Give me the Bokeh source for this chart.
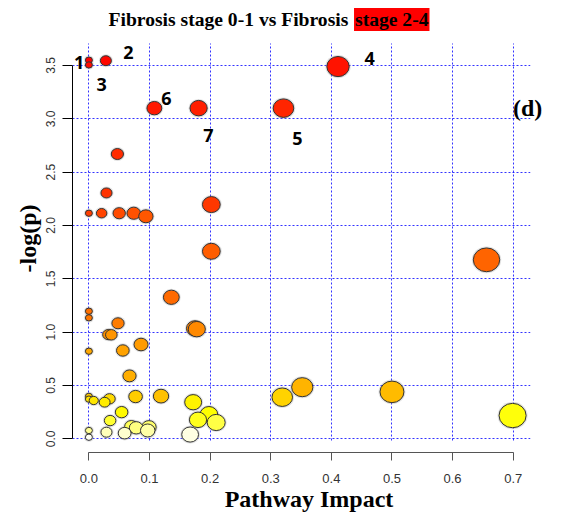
import colorsys
import math
from bokeh.plotting import figure
from bokeh.models import Range1d, Label, FixedTicker, ColumnDataSource, BoxAnnotation
from bokeh.embed import file_html
from bokeh.resources import INLINE

# ---- data (sorted by -log(p), most significant first) ----
impact = [0.000, 0.028, 0.000, 0.411, 0.108, 0.181, 0.321, 0.047, 0.029, 0.202,
          0.000, 0.021, 0.050, 0.074, 0.094, 0.202, 0.656, 0.136, 0.000, 0.000,
          0.048, 0.175, 0.178, 0.032, 0.037, 0.086, 0.056, 0.000, 0.067, 0.352,
          0.500, 0.119, 0.000, 0.077, 0.319, 0.034, 0.000, 0.008, 0.026, 0.172,
          0.054, 0.198, 0.699, 0.180, 0.035, 0.210, 0.070, 0.099, 0.078, 0.000,
          0.097, 0.029, 0.059, 0.167, 0.000]
neg_log_p = [3.550, 3.545, 3.505, 3.490, 3.100, 3.100, 3.100, 2.670, 2.305, 2.196,
             2.115, 2.115, 2.115, 2.115, 2.086, 1.758, 1.678, 1.327, 1.196, 1.134,
             1.083, 1.035, 1.028, 0.977, 0.975, 0.884, 0.828, 0.821, 0.590, 0.484,
             0.440, 0.400, 0.398, 0.396, 0.390, 0.375, 0.372, 0.359, 0.343, 0.343,
             0.250, 0.228, 0.218, 0.178, 0.171, 0.153, 0.115, 0.109, 0.103, 0.078,
             0.078, 0.062, 0.053, 0.040, 0.015]

x_ticks = [0.0, 0.1, 0.2, 0.3, 0.4, 0.5, 0.6, 0.7]
x_tick_labels = ["0.0", "0.1", "0.2", "0.3", "0.4", "0.5", "0.6", "0.7"]
y_ticks = [0.0, 0.5, 1.0, 1.5, 2.0, 2.5, 3.0, 3.5]
y_tick_labels = ["0.0", "0.5", "1.0", "1.5", "2.0", "2.5", "3.0", "3.5"]

title_main = "Fibrosis stage 0-1 vs Fibrosis "
title_highlight = "stage 2-4"
x_label = "Pathway Impact"
y_label = "-log(p)"
panel_tag = "(d)"
point_numbers = ["1", "2", "3", "4", "5", "6", "7"]

# ---- heat.colors style fill by significance rank ----
def heat_colors(n):
    j = n // 4
    i = n - j
    cols = []
    for k in range(i):
        h = (1.0 / 6.0) * k / (i - 1) if i > 1 else 0.0
        cols.append(colorsys.hsv_to_rgb(h, 1.0, 1.0))
    for k in range(j):
        s0, s1 = 1 - 1 / (2 * j), 1 / (2 * j)
        s = s0 + (s1 - s0) * k / (j - 1) if j > 1 else s0
        cols.append(colorsys.hsv_to_rgb(1.0 / 6.0, s, 1.0))
    return ["#%02x%02x%02x" % tuple(int(round(c * 255)) for c in rgb) for rgb in cols]

order = sorted(range(len(neg_log_p)), key=lambda k: -neg_log_p[k])
pal = heat_colors(len(neg_log_p))
fill = [None] * len(neg_log_p)
for rank, k in enumerate(order):
    fill[k] = pal[rank]

w = [2 * (3.5 + 12 * math.sqrt(v)) for v in impact]
h = [0.9 * v for v in w]
src = ColumnDataSource(dict(x=impact, y=neg_log_p, w=w, h=h,
                            w2=[v + 3 for v in w], h2=[v + 3 for v in h], fill=fill))

# frame spans the top/right of the canvas so that title and tag are not clipped
p = figure(width=545, height=515, output_backend="svg", toolbar_location=None,
           x_range=Range1d(-0.02706, 0.7533), y_range=Range1d(-0.1284, 4.1093),
           min_border_left=72, min_border_right=0, min_border_top=0,
           min_border_bottom=63)
p.outline_line_color = None
p.background_fill_color = "white"
p.border_fill_color = "white"

# grid
for g, t in ((p.xgrid, x_ticks), (p.ygrid, y_ticks)):
    g.ticker = FixedTicker(ticks=t)
    g.grid_line_color = "#0000ff"
    g.grid_line_alpha = 0.8
    g.grid_line_dash = "2 2"
    g.grid_line_width = 1

# white masks limiting the grid to the plotting region
for kw in (dict(bottom=3.706), dict(left=0.7285), dict(top=-0.03)):
    p.add_layout(BoxAnnotation(fill_color="white", fill_alpha=1.0, line_color=None,
                               level="underlay", **kw))

# axes
p.xaxis.ticker = FixedTicker(ticks=x_ticks)
p.xaxis.major_label_overrides = {t: s for t, s in zip(x_ticks, x_tick_labels)}
p.xaxis.bounds = (x_ticks[0], x_ticks[-1])
p.yaxis.ticker = FixedTicker(ticks=y_ticks)
p.yaxis.major_label_overrides = {t: s for t, s in zip(y_ticks, y_tick_labels)}
p.yaxis.bounds = (y_ticks[0], y_ticks[-1])
p.yaxis.major_label_orientation = "vertical"
for ax in (p.xaxis, p.yaxis):
    ax.minor_tick_line_color = None
    ax.major_tick_in = 0
    ax.major_label_text_font = "Liberation Sans"
    ax.major_label_text_color = "#333333"
    ax.axis_label_text_font = "Liberation Serif"
    ax.axis_label_text_font_style = "bold"
    ax.axis_label_text_font_size = "24px"
    ax.axis_label_text_color = "black"
p.xaxis.axis_line_color = "#555555"
p.xaxis.major_tick_line_color = "#555555"
p.yaxis.axis_line_color = "black"
p.yaxis.major_tick_line_color = "black"
p.xaxis.major_tick_out = 8
p.yaxis.major_tick_out = 10
p.xaxis.major_label_text_font_size = "13px"
p.yaxis.major_label_text_font_size = "12px"
p.xaxis.major_label_standoff = 13
p.yaxis.major_label_standoff = 7
p.xaxis.axis_label = x_label
# trailing no-break spaces centre the rotated label on the plotting region
p.yaxis.axis_label = y_label + "\u00a0" * 4
p.xaxis.axis_label_standoff = 0
p.yaxis.axis_label_standoff = 3

# bubbles with a soft halo
p.ellipse("x", "y", width="w2", height="h2", width_units="screen", height_units="screen",
          source=src, fill_color="#888888", fill_alpha=0.25, line_color=None)
p.ellipse("x", "y", width="w", height="h", width_units="screen", height_units="screen",
          source=src, fill_color="fill", line_color="#333333", line_width=1)

# title (two parts, second highlighted)
p.add_layout(Label(x=0.0323, y=3.931, text=title_main, text_font="Liberation Serif",
                   text_font_style="bold", text_font_size="19.6px", text_align="left",
                   text_baseline="alphabetic", text_color="black"))
p.add_layout(Label(x=0.4374, y=3.931, text=title_highlight, text_font="Liberation Serif",
                   text_font_style="bold", text_font_size="19.6px", text_align="left",
                   text_baseline="alphabetic", text_color="black",
                   background_fill_color="#ff0000", padding=1))

# panel tag
p.add_layout(Label(x=0.7237, y=3.097, text=panel_tag, text_font="Liberation Serif",
                   text_font_style="bold", text_font_size="24px", text_align="center",
                   text_baseline="middle", text_color="black"))

# point numbers (annotation positions)
num_pos = [(-0.016, 3.53), (0.065, 3.62), (0.021, 3.32), (0.463, 3.57),
           (0.344, 2.82), (0.128, 3.19), (0.197, 2.84)]
for t, (lx, ly) in zip(point_numbers, num_pos):
    p.add_layout(Label(x=lx, y=ly, text=t, text_font="Open Sans", text_font_style="bold",
                       text_font_size="18px", text_align="center", text_baseline="middle",
                       text_color="black"))

open("out.html", "w").write(file_html(p, INLINE))
